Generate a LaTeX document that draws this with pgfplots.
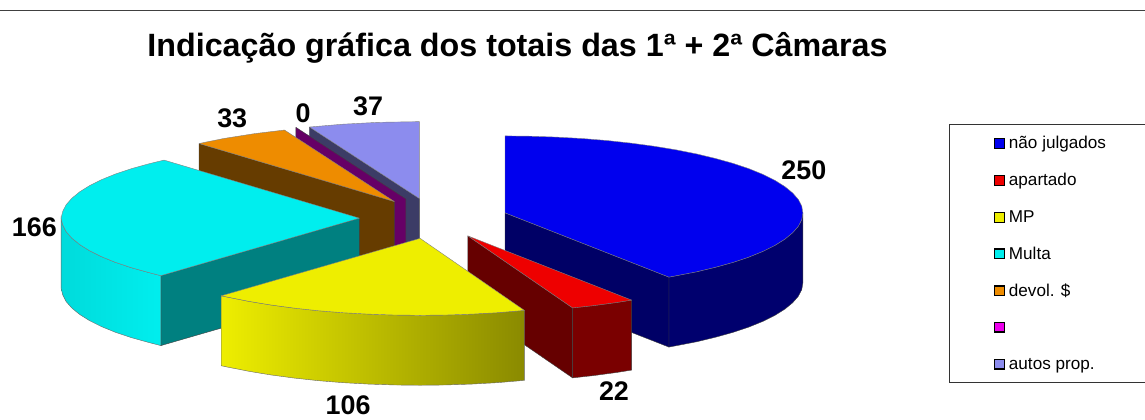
\documentclass[border=0pt]{standalone}
\usepackage{pgfplots}
\pgfplotsset{compat=1.18}
\usepackage{fontspec}
\setmainfont{Liberation Sans}
\definecolor{cblue}{HTML}{0000EE}
\definecolor{cblueside}{HTML}{000066}
\definecolor{cbluewall}{HTML}{00006E}
\definecolor{cred}{HTML}{EE0000}
\definecolor{credside}{HTML}{660000}
\definecolor{credwall}{HTML}{7A0000}
\definecolor{cyel}{HTML}{EEEE00}
\definecolor{ccyan}{HTML}{00EEEE}
\definecolor{cteal}{HTML}{008080}
\definecolor{corg}{HTML}{EE8C00}
\definecolor{cbrown}{HTML}{663C00}
\definecolor{cpurp}{HTML}{660066}
\definecolor{cper}{HTML}{8C8CEE}
\definecolor{cperside}{HTML}{3C3C66}
\definecolor{cmag}{HTML}{EE00EE}
\pgfplotsset{face/.style={fill=#1,draw=black!75,line width=0.4pt,line join=round},
  rim/.style={fill=#1,draw=black!50,line width=0.4pt,line join=round}}
\newcommand{\lab}[3]{\node[font=\fontsize{27}{27}\selectfont\bfseries,inner sep=0pt,anchor=center] at (axis cs:#1,#2) {#3};}
\newcommand{\leg}[3]{\addplot[only marks,mark=square*,mark size=4.8pt,mark options={fill=#1,draw=black,line width=1.3pt}] coordinates {(999.8,#2)};
  \node[font=\fontsize{17.2}{17.2}\selectfont,anchor=base west,inner sep=0pt] at (axis cs:1009,#2+5.5) {#3};}
\begin{document}
\begin{tikzpicture}
\begin{axis}[scale only axis,width=1145bp,height=420bp,xmin=0,xmax=1145,ymin=0,ymax=420,y dir=reverse,hide axis,clip=false]
\path (axis cs:0,0) -- (axis cs:1145,420);
% top rule
\addplot[black!75,line width=0.7pt] coordinates {(0,10) (1145,10)};
% periwinkle (37)
\addplot[face=cperside] coordinates {(309.3,127.1)(419.3,198.7)(419.3,268.7)(309.3,197.1)(309.3,127.1)};
\addplot[rim=cper] coordinates {(419.3,198.7)(309.3,127.1)(342.2,124.3)(377.8,122.4)(419.3,121.7)(419.3,198.7)};
% zero slice
\addplot[face=cpurp] coordinates {(295.7,127.4)(405.7,199)(405.7,269)(295.7,197.4)(295.7,127.4)};
% orange (33)
\addplot[face=cbrown] coordinates {(198.8,143.6)(394.3,201.7)(394.3,271.7)(198.8,213.6)(198.8,143.6)};
\addplot[rim=corg] coordinates {(394.3,201.7)(198.8,143.6)(223.4,138.6)(254.4,133.7)(284.3,130.1)(394.3,201.7)};
% cyan (166)
\addplot[face=cteal] coordinates {(359.3,218.3)(160.6,275.8)(160.6,345.8)(359.3,288.3)(359.3,218.3)};
\addplot[draw=black!60,line width=0.4pt,left color=ccyan!92!black,right color=ccyan] coordinates {(160.6,275.8)(148.6,272.7)(131,267.8)(115.2,262.5)(101.2,256.8)(89.2,250.8)(79.3,244.6)(71.5,238.2)(65.8,231.7)(62.4,225)(60.8,218.3)(60.8,288.3)(62.4,295)(65.8,301.7)(71.5,308.2)(79.3,314.6)(89.2,320.8)(101.2,326.8)(115.2,332.5)(131,337.8)(148.6,342.7)(160.6,345.8)(160.6,275.8)};
\addplot[rim=ccyan] coordinates {(359.3,218.3)(160.6,275.8)(148.6,272.7)(131,267.8)(115.2,262.5)(101.2,256.8)(89.2,250.8)(79.3,244.6)(71.5,238.2)(65.8,231.7)(62.4,225)(60.8,218.3)(62.4,211.6)(65.8,204.9)(71.5,198.4)(79.3,192)(89.2,185.8)(101.2,179.8)(115.2,174.1)(131,168.8)(148.6,163.9)(163.8,160.2)(359.3,218.3)};
% blue (250)
\addplot[face=cblueside] coordinates {(505,213)(669,277.3)(669,347.3)(505,283)(505,213)};
\addplot[face=cbluewall] coordinates {(803,213)(801.9,219.7)(798.5,226.4)(792.8,232.9)(785,239.3)(775.1,245.5)(763.1,251.5)(749.1,257.2)(733.3,262.5)(715.7,267.4)(696.6,272)(669,277.3)(669,347.3)(696.6,342)(715.7,337.4)(733.3,332.5)(749.1,327.2)(763.1,321.5)(775.1,315.5)(785,309.3)(792.8,302.9)(798.5,296.4)(801.9,289.7)(803,283)(803,213)};
\addplot[rim=cblue] coordinates {(505,213)(505,136)(531,136.3)(556.7,137.2)(582.1,138.6)(606.9,140.6)(630.9,143.2)(654,146.3)(675.9,149.9)(696.6,154)(715.7,158.6)(733.3,163.5)(749.1,168.8)(763.1,174.5)(775.1,180.5)(785,186.7)(792.8,193.1)(798.5,199.6)(801.9,206.3)(803,213)(801.9,219.7)(798.5,226.4)(792.8,232.9)(785,239.3)(775.1,245.5)(763.1,251.5)(749.1,257.2)(733.3,262.5)(715.7,267.4)(696.6,272)(669,277.3)(505,213)};
% red (22)
\addplot[face=credside] coordinates {(467.7,236)(572.6,308.1)(572.6,378.1)(467.7,306)(467.7,236)};
\addplot[face=credwall] coordinates {(631.7,300.3)(616.7,302.7)(593.6,305.8)(572.6,308.1)(572.6,378.1)(593.6,375.8)(616.7,372.7)(631.7,370.3)(631.7,300.3)};
\addplot[rim=cred] coordinates {(467.7,236)(631.7,300.3)(616.7,302.7)(593.6,305.8)(572.6,308.1)(467.7,236)};
% yellow (106)
\addplot[draw=black!60,line width=0.4pt,left color=cyel,middle color=cyel!85!black,right color=cyel!58!black] coordinates {(524.4,310.6)(497.1,312.9)(471.7,314.3)(446,315.2)(420,315.5)(394,315.2)(368.3,314.3)(342.9,312.9)(318.1,310.9)(294.1,308.3)(271,305.2)(249.1,301.6)(228.4,297.5)(221,296)(221,366)(228.4,367.5)(249.1,371.6)(271,375.2)(294.1,378.3)(318.1,380.9)(342.9,382.9)(368.3,384.3)(394,385.2)(420,385.5)(446,385.2)(471.7,384.3)(497.1,382.9)(524.4,380.6)(524.4,310.6)};
\addplot[rim=cyel] coordinates {(420,238.5)(524.4,310.6)(497.1,312.9)(471.7,314.3)(446,315.2)(420,315.5)(394,315.2)(368.3,314.3)(342.9,312.9)(318.1,310.9)(294.1,308.3)(271,305.2)(249.1,301.6)(228.4,297.5)(221,296)(420,238.5)};
% value labels
\lab{804}{170}{250}
\lab{614}{391}{22}
\lab{348}{405}{106}
\lab{34}{227}{166}
\lab{232}{118}{33}
\lab{303}{113}{0}
\lab{368}{106}{37}
% title
\node[font=\fontsize{32.4}{32.4}\selectfont\bfseries,anchor=center,inner sep=0pt] at (axis cs:517.5,48) {Indicação gráfica dos totais das 1ª + 2ª Câmaras};
% legend box
\addplot[black!80,line width=0.7pt] coordinates {(1145,124.5)(949.5,124.5)(949.5,383)(1145,383)};
\leg{cblue}{143.5}{não julgados}
\leg{cred}{180.5}{apartado}
\leg{cyel}{217.5}{MP}
\leg{ccyan}{254}{Multa}
\leg{corg}{291}{devol. \$}
\leg{cmag}{327.5}{}
\leg{cper}{364.5}{autos prop.}
\end{axis}
\end{tikzpicture}
\end{document}
